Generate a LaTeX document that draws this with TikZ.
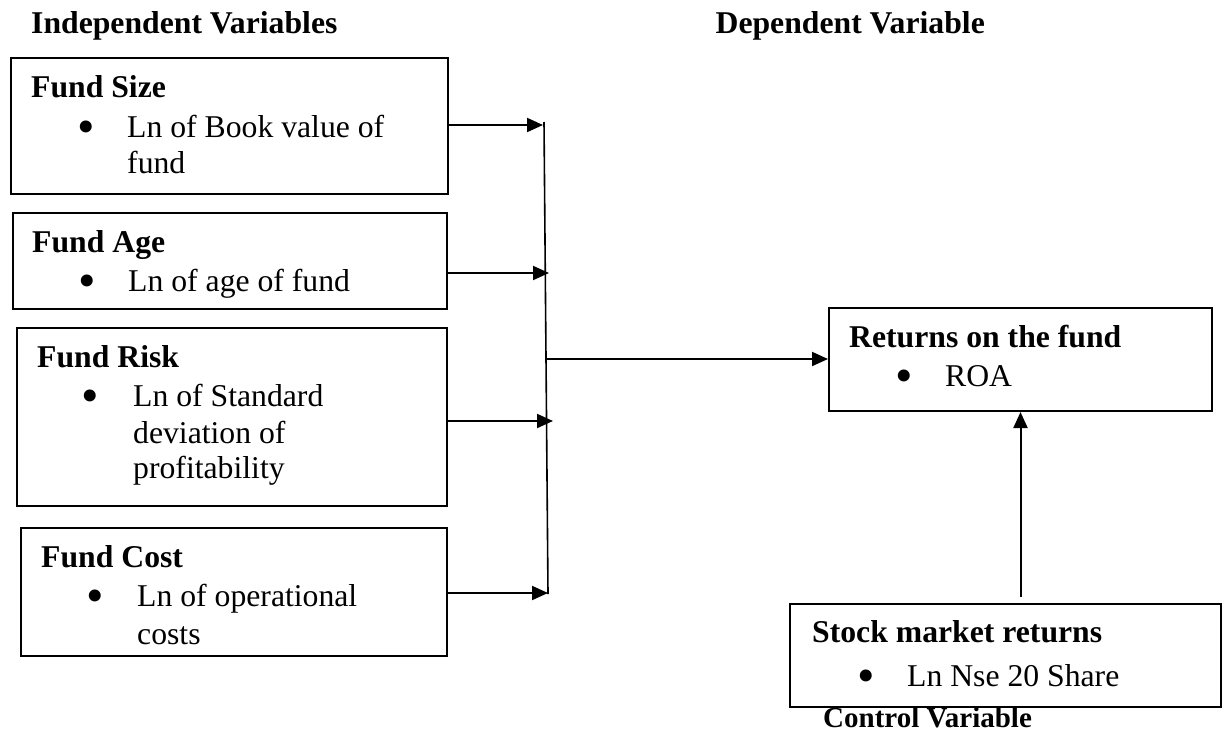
\documentclass[tikz,border=0pt]{standalone}
\usepackage{fontspec}
\setmainfont{Liberation Serif}
\usetikzlibrary{arrows.meta}
\tikzset{
  box/.style={draw, line width=2pt, inner sep=0pt, anchor=north west},
  tx/.style={anchor=base west, inner sep=0pt, font=\fontsize{31.7}{37}\selectfont},
  hd/.style={anchor=base west, inner sep=0pt, font=\fontsize{31.7}{37}\selectfont\bfseries},
  bl/.style={anchor=base, inner sep=0pt, font=\fontsize{50}{50}\selectfont},
  arr/.style={line width=2pt, -{Triangle[length=16pt,width=14pt]}},
  bus/.style={line width=1.6pt}
}
\begin{document}
\begin{tikzpicture}[x=1pt,y=-1pt]
\useasboundingbox (0,0) rectangle (1223,755);

% titles
\node[hd] (indep) at (31,33) {Independent Variables};
\node[hd, anchor=base east] (dep) at (985,33) {Dependent Variable};
\node[anchor=base west, inner sep=0pt, font=\fontsize{29}{34}\selectfont\bfseries] (ctrl) at (823,727) {Control Variable};

% boxes
\node[box, minimum width=437pt, minimum height=136pt] (size) at (10,57) {};
\node[box, minimum width=434pt, minimum height=96pt] (age) at (12,212) {};
\node[box, minimum width=430pt, minimum height=178pt] (risk) at (16,327) {};
\node[box, minimum width=426pt, minimum height=128pt] (cost) at (20,527) {};
\node[box, minimum width=383pt, minimum height=103pt] (ret) at (828,307) {};
\node[box, minimum width=431pt, minimum height=103pt] (stock) at (789,603) {};

% Fund Size
\node[hd] (sizeH) at (31,97) {Fund Size};
\node[bl] (sizeB) at (86,143) {\smash{\textbullet}};
\node[tx] (sizeL1) at (127,137) {Ln of Book value of};
\node[tx] (sizeL2) at (127,173) {fund};

% Fund Age
\node[hd] (ageH) at (32,252) {Fund Age};
\node[bl] (ageB) at (87,297) {\smash{\textbullet}};
\node[tx] (ageL1) at (128,291) {Ln of age of fund};

% Fund Risk
\node[hd] (riskH) at (37,367) {Fund Risk};
\node[bl] (riskB) at (90,412) {\smash{\textbullet}};
\node[tx] (riskL1) at (133,406) {Ln of Standard};
\node[tx] (riskL2) at (133,443) {deviation of};
\node[tx] (riskL3) at (133,478) {profitability};

% Fund Cost
\node[hd] (costH) at (41,567) {Fund Cost};
\node[bl] (costB) at (95,612) {\smash{\textbullet}};
\node[tx] (costL1) at (137,606) {Ln of operational};
\node[tx] (costL2) at (137,644) {costs};

% Returns
\node[hd] (retH) at (849,347) {Returns on the fund};
\node[bl] (retB) at (904,392) {\smash{\textbullet}};
\node[tx] (retL1) at (945,386) {ROA};

% Stock
\node[hd] (stockH) at (812,642) {Stock market returns};
\node[bl] (stockB) at (866,692) {\smash{\textbullet}};
\node[tx] (stockL1) at (907,686) {Ln Nse 20 Share};

% bus coordinates
\coordinate (top) at (544,122);
\coordinate (bot) at (548,594);
\coordinate (a1) at (543,125);
\coordinate (a2) at (549,273);
\coordinate (a3) at (553,421);
\coordinate (a4) at (548,593);
\coordinate (mid) at (546,359);

\draw[bus] (top) -- (bot);
\draw[arr] (size.east |- a1) -- (a1);
\draw[arr] (age.east |- a2) -- (a2);
\draw[arr] (risk.east |- a3) -- (a3);
\draw[arr] (cost.east |- a4) -- (a4);
\draw[arr] (mid) -- (ret.west |- mid);
\draw[arr] ([yshift=6pt]stock.north -| ret.south) -- (ret.south);
\end{tikzpicture}
\end{document}
